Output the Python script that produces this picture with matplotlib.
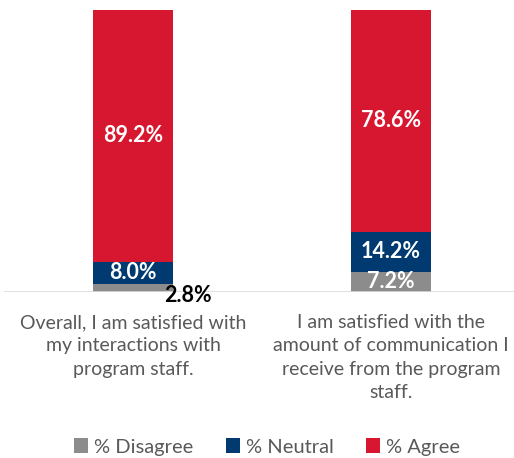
import matplotlib.pyplot as plt
from matplotlib.patches import Patch

plt.rcParams['font.family'] = ['Lato', 'DejaVu Sans']

# Survey results (percent of respondents)
questions = [
    'Overall, I am satisfied with\nmy interactions with\nprogram staff.',
    'I am satisfied with the\namount of communication I\nreceive from the program\nstaff.',
]
disagree = [2.8, 7.2]
neutral = [8.0, 14.2]
agree = [89.2, 78.6]

series_names = ['% Disagree', '% Neutral', '% Agree']
colors = ['#8C8C8C', '#003A70', '#D7172F']

fig = plt.figure(figsize=(5.14, 4.58), dpi=100)
ax = fig.add_axes([4 / 514, 1 - 292 / 458, 510 / 514, 282 / 458])

x = list(range(len(questions)))
width = 80 / 258

bottom = [0.0] * len(x)
for vals, name, color in zip([disagree, neutral, agree], series_names, colors):
    ax.bar(x, vals, width, bottom=bottom, color=color, label=name, zorder=2)
    for i, v in enumerate(vals):
        mid = bottom[i] + v / 2
        if v < 5:
            # too thin to hold its label, put it beside the bar instead
            ax.text(x[i] + width / 2 + 0.058, -1.2, f'{v:.1f}%', ha='center', va='center',
                    fontsize=15.5, fontweight='bold', color='black', clip_on=False, zorder=5)
        else:
            ax.text(x[i], mid, f'{v:.1f}%', ha='center', va='center',
                    fontsize=15.5, fontweight='bold', color='white', zorder=3)
    bottom = [b + v for b, v in zip(bottom, vals)]

ax.set_xlim(-0.5, 1.477)
ax.set_ylim(0, 100)
ax.axhline(0, color='#D9D9D9', linewidth=1.2, zorder=4)
for s in ax.spines.values():
    s.set_visible(False)
ax.set_yticks([])
ax.set_xticks([])

for i, q in enumerate(questions):
    ax.text(x[i], -7.8, q, ha='center', va='top', fontsize=14, color='#595959',
            linespacing=1.46, clip_on=False)

handles = [Patch(facecolor=c, label=n) for n, c in zip(series_names, colors)]
leg = fig.legend(handles=handles, loc='center', bbox_to_anchor=(267 / 514, 1 - 447 / 458),
                 ncol=3, frameon=False, fontsize=14.5, handlelength=0.7, handleheight=0.7,
                 handletextpad=0.3, columnspacing=1.6)
for t in leg.get_texts():
    t.set_color('#595959')

fig.savefig('out.png', dpi=100)
